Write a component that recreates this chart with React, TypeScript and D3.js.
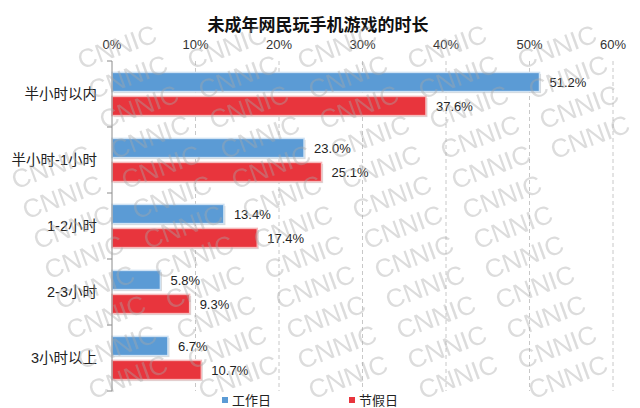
import React from "react";
import * as d3 from "d3";

const categories = ["半小时以内", "半小时-1小时", "1-2小时", "2-3小时", "3小时以上"];
const seriesNames = ["工作日", "节假日"];
const workday = [51.2, 23.0, 13.4, 5.8, 6.7];
const holiday = [37.6, 25.1, 17.4, 9.3, 10.7];
const tickValues = [0, 10, 20, 30, 40, 50, 60];
const colors = ["#5b9bd5", "#e8353d"];
const borders = ["#cfe2f3", "#f6b9bb"];

const W = 640;
const H = 408;
const CJK = "'Liberation Sans', Arial, 'Noto Sans CJK SC', sans-serif";

export default function App() {
  const x = d3.scaleLinear().domain([0, 60]).range([112, 613]);
  const y = d3.scaleBand<string>().domain(categories).range([61, 391]).paddingInner(0).paddingOuter(0);
  const inner = d3
    .scaleBand<string>()
    .domain(seriesNames)
    .range([0, y.bandwidth()])
    .paddingInner(0.2)
    .paddingOuter(0.475);
  const series = [workday, holiday];

  // watermark grid (decoration)
  const marks: { cx: number; cy: number }[] = [];
  for (let r = -12; r <= 14; r++) {
    for (let c = -8; c <= 6; c++) {
      const cx = 403 + 110 * c + 11 * r;
      const cy = 227 + 30 * r;
      if (cx > 40 && cx < W - 40 && cy > 22 && cy < H - 22) marks.push({ cx, cy });
    }
  }

  const boundaries = [...categories.map((c) => y(c) as number), 391];

  return (
    <svg
      width={W}
      height={H}
      style={{ position: "absolute", left: 0, top: 0, background: "#fff" }}
      fontFamily={CJK}
    >
      <rect x={0} y={0} width={W} height={H} fill="#ffffff" />
      {tickValues.slice(1).map((t) => (
        <line
          key={"g" + t}
          x1={x(t)}
          x2={x(t)}
          y1={61}
          y2={391}
          stroke="#c8c8c8"
          strokeWidth={1}
          strokeDasharray="4,3"
        />
      ))}
      {tickValues.map((t) => (
        <text
          key={"t" + t}
          x={x(t)}
          y={44}
          textAnchor="middle"
          dominantBaseline="central"
          fontSize={13}
          fill="#333"
          fontFamily="'Liberation Sans', Arial, sans-serif"
        >
          {t}%
        </text>
      ))}
      {categories.map((cat, i) => (
        <g key={cat} transform={`translate(0,${y(cat)})`}>
          {series.map((vals, s) => {
            const by = inner(seriesNames[s]) as number;
            const bw = x(vals[i]) - x(0);
            return (
              <g key={s}>
                <rect x={x(0) + 1.5} y={by + 1.5} width={bw} height={inner.bandwidth()} fill="#c9c9c9" opacity={0.7} />
                <rect
                  x={x(0)}
                  y={by}
                  width={bw}
                  height={inner.bandwidth()}
                  fill={colors[s]}
                  stroke={borders[s]}
                  strokeWidth={1.5}
                />
                <text
                  x={x(vals[i]) + 10}
                  y={by + inner.bandwidth() / 2}
                  dominantBaseline="central"
                  fontSize={13}
                  fill="#222"
                  fontFamily="'Liberation Sans', Arial, sans-serif"
                >
                  {vals[i].toFixed(1)}%
                </text>
              </g>
            );
          })}
          <text
            x={97}
            y={y.bandwidth() / 2}
            textAnchor="end"
            dominantBaseline="central"
            fontSize={14.5}
            fill="#222"
          >
            {cat}
          </text>
        </g>
      ))}
      <line x1={112} x2={112} y1={61} y2={391} stroke="#8c8c8c" strokeWidth={1} />
      {boundaries.map((b, i) => (
        <line key={"yt" + i} x1={107} x2={112} y1={b} y2={b} stroke="#8c8c8c" strokeWidth={1} />
      ))}
      <text
        x={318}
        y={23}
        textAnchor="middle"
        dominantBaseline="central"
        fontSize={17}
        fontWeight="bold"
        fill="#111"
        fontFamily="'Noto Sans CJK SC', sans-serif"
      >
        未成年网民玩手机游戏的时长
      </text>
      {seriesNames.map((n, s) => (
        <g key={n} transform={`translate(${222 + s * 127},0)`}>
          <rect x={0} y={397} width={6} height={6} fill={colors[s]} />
          <text x={10} y={400} dominantBaseline="central" fontSize={13} fill="#222">
            {n}
          </text>
        </g>
      ))}
      <g opacity={0.4} fill="#a8a8a8" fontFamily="'Liberation Sans', Arial, sans-serif" fontSize={26}>
        {marks.map((m, i) => (
          <text
            key={"w" + i}
            x={m.cx}
            y={m.cy}
            textAnchor="middle"
            dominantBaseline="central"
            transform={`rotate(-20,${m.cx},${m.cy})`}
          >
            CNNIC
          </text>
        ))}
      </g>
    </svg>
  );
}
